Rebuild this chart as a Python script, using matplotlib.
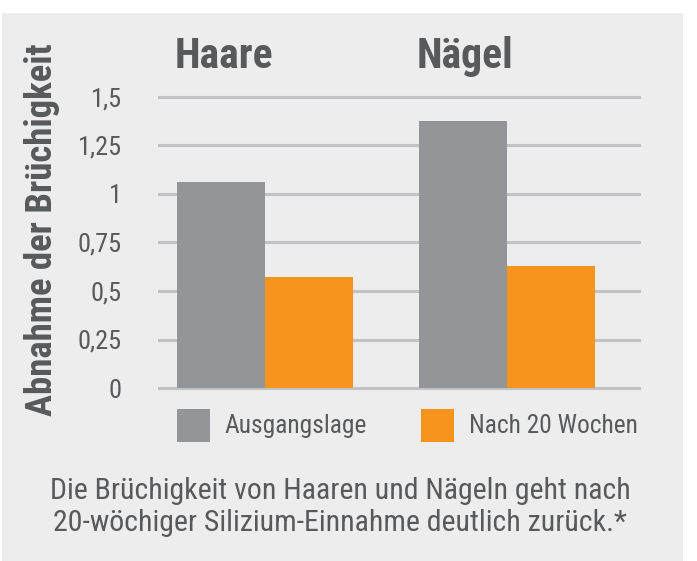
import matplotlib.pyplot as plt
import numpy as np
from matplotlib.patches import Rectangle

groups = ['Haare', 'Nägel']
series_names = ['Ausgangslage', 'Nach 20 Wochen']
ausgang = [1.06, 1.375]
nach20 = [0.57, 0.63]
ytick_vals = [0, 0.25, 0.5, 0.75, 1, 1.25, 1.5]
ytick_labels = ['0', '0,25', '0,5', '0,75', '1', '1,25', '1,5']

grau = '#939598'
orange = '#f7941d'
text_col = '#58595b'
panel = '#ededed'
grid_col = '#c2c2c6'

plt.rcParams['font.family'] = ['Roboto Condensed', 'DejaVu Sans']

W, H = 697, 561
fig = plt.figure(figsize=(W / 100, H / 100), dpi=100)
fig.patch.set_facecolor('white')
fig.patches.append(Rectangle((2 / W, 0), 681 / W, 548 / H, transform=fig.transFigure,
                             facecolor=panel, edgecolor='none', zorder=-10))

# Achse in Pixeln: y=0 bei 388px, y=1.5 bei 97px
px_per = 194.0
pad = 6
ax = fig.add_axes([158 / W, (H - 388 - pad) / H, 483 / W, (291 + 2 * pad) / H])
ax.set_facecolor('none')
ax.set_ylim(-pad / px_per, 1.5 + pad / px_per)

spacing = 242.5
x = np.arange(len(groups))
w = 88 / spacing
ax.set_xlim((158 - 264.5) / spacing, (641 - 264.5) / spacing)

for v in ytick_vals:
    ax.axhline(v, color=grid_col, lw=2.2, zorder=1)

ax.bar(x - w / 2, ausgang, w, color=grau, zorder=2, label=series_names[0])
ax.bar(x + w / 2, nach20, w, color=orange, zorder=2, label=series_names[1])

for s in ax.spines.values():
    s.set_visible(False)
ax.set_xticks([])
ax.set_yticks(ytick_vals)
ax.set_yticklabels(ytick_labels, fontsize=19, color=text_col)
ax.tick_params(axis='y', length=0, pad=26)

# Gruppentitel
for xi, g in zip(x, groups):
    ax.text(xi - w - 2 / spacing, 1.5 + 40 / px_per, g, ha='left', va='center', fontsize=30,
            fontweight='bold', color=text_col)

fig.text(42 / W, 1 - 230 / H, 'Abnahme der Brüchigkeit', rotation=90, ha='center',
         va='center', fontsize=26.5, fontweight='bold', color=text_col)

# Legende
for lx, tx, col, name in [(177, 224, grau, series_names[0]), (421, 469, orange, series_names[1])]:
    fig.patches.append(Rectangle((lx / W, 1 - 442 / H), 33 / W, 33 / H, transform=fig.transFigure,
                                 facecolor=col, edgecolor='none'))
    fig.text(tx / W, 1 - 426 / H, name, ha='left', va='center', fontsize=18.3, color=text_col)

fig.text(340 / W, 1 - 507 / H,
         'Die Brüchigkeit von Haaren und Nägeln geht nach\n20-wöchiger Silizium-Einnahme deutlich zurück.*',
         ha='center', va='center', fontsize=21.5, color=text_col, linespacing=1.15)

fig.savefig('out.png', dpi=100)
